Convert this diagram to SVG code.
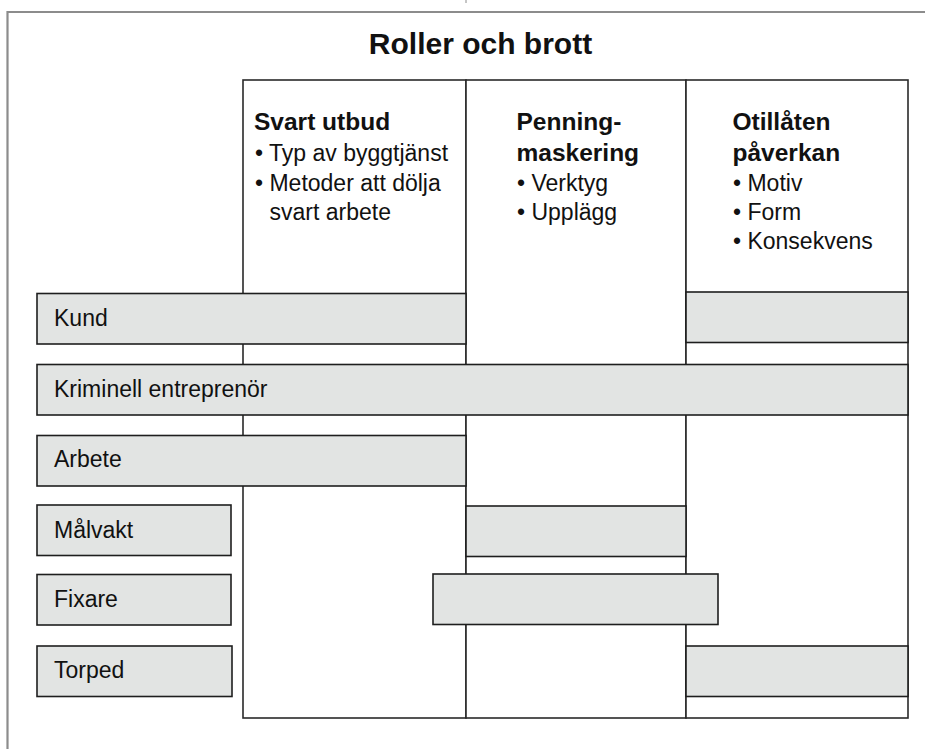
<svg xmlns="http://www.w3.org/2000/svg" width="925" height="749" viewBox="0 0 925 749">
<style>
text{font-family:"Liberation Sans",Arial,Helvetica,sans-serif;fill:#111}
.t{font-size:30px;font-weight:bold;text-anchor:middle}
.h{font-size:24.5px;font-weight:bold}
.b{font-size:23px}
.l{font-size:23px}
.bar{fill:#e2e4e3;stroke:#1e1e1e;stroke-width:1.6}
.col{fill:#fff;stroke:#2a2a2a;stroke-width:1.6}
</style>
<rect width="925" height="749" fill="#fff"/>
<g id="frame" fill="none" stroke="#8c8c8c" stroke-width="2.2">
<polyline points="7.5,749 7.5,12 925,12"/>
<line x1="466" y1="0" x2="466" y2="3" stroke-width="1"/>
</g>
<text class="t" x="480.5" y="54">Roller och brott</text>
<g id="columns">
<g id="col-svart">
<rect class="col" x="243" y="80" width="223" height="638"/>
<text class="h" x="254" y="130">Svart utbud</text>
<text class="b" x="255" y="161">• Typ av byggtjänst</text>
<text class="b" x="255" y="191">• Metoder att dölja</text>
<text class="b" x="269.5" y="220">svart arbete</text>
</g>
<g id="col-penning">
<rect class="col" x="466" y="80" width="220" height="638"/>
<text class="h" x="516.5" y="130">Penning-</text>
<text class="h" x="516.5" y="161">maskering</text>
<text class="b" x="517" y="191">• Verktyg</text>
<text class="b" x="517" y="220">• Upplägg</text>
</g>
<g id="col-otillaten">
<rect class="col" x="686" y="80" width="222" height="638"/>
<text class="h" x="732.5" y="130">Otillåten</text>
<text class="h" x="732.5" y="161">påverkan</text>
<text class="b" x="733" y="191">• Motiv</text>
<text class="b" x="733" y="220">• Form</text>
<text class="b" x="733" y="249">• Konsekvens</text>
</g>
</g>
<g id="connectors"></g>
<g id="kund">
<rect class="bar" x="37" y="293.5" width="429" height="50.5"/>
<rect class="bar" x="686" y="292" width="222" height="50.5"/>
<text class="l" x="54" y="326">Kund</text>
</g>
<g id="kriminell">
<rect class="bar" x="37" y="364.5" width="871" height="50.5"/>
<text class="l" x="54" y="397">Kriminell entreprenör</text>
</g>
<g id="arbete">
<rect class="bar" x="37" y="435.5" width="429" height="50.5"/>
<text class="l" x="54" y="467">Arbete</text>
</g>
<g id="malvakt">
<rect class="bar" x="37" y="505" width="194" height="50.5"/>
<rect class="bar" x="466" y="506" width="220" height="50.5"/>
<text class="l" x="54" y="537.5">Målvakt</text>
</g>
<g id="fixare">
<rect class="bar" x="37" y="574.5" width="194" height="50.5"/>
<rect class="bar" x="433" y="574" width="285" height="50.5"/>
<text class="l" x="54" y="607">Fixare</text>
</g>
<g id="torped">
<rect class="bar" x="37" y="646" width="195" height="50.5"/>
<rect class="bar" x="686" y="646" width="222" height="50.5"/>
<text class="l" x="54" y="677.5">Torped</text>
</g>
</svg>
